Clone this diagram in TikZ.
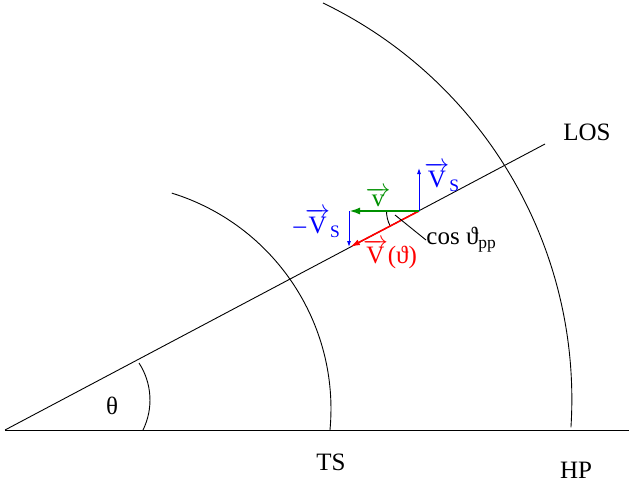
\documentclass[tikz,border=0pt]{standalone}
\usepackage{fontspec}
\setmainfont{Liberation Serif}
\usepackage{xcolor}
\definecolor{VsBlue}{HTML}{0000FF}
\definecolor{VGreen}{HTML}{009000}
\definecolor{VRed}{HTML}{FF0000}
\usetikzlibrary{arrows.meta}
\newcommand{\vecarr}[1]{$\overrightarrow{\hbox{#1}}$}

\begin{document}
\begin{tikzpicture}[x=1pt, y=-1pt, >=Latex, line width=.9pt,
  every node/.style={font=\fontsize{25}{29}\selectfont, inner sep=0pt},
  vecblue/.style={VsBlue, line width=.9pt, -{Latex[length=6pt,width=4pt]}},
  vecgreen/.style={VGreen, line width=2pt, -{Latex[length=11pt,width=7pt]}},
  vecred/.style={VRed, line width=1.6pt, -{Latex[length=10pt,width=6pt]}}]
  \useasboundingbox (0,0) rectangle (629,483);
  \coordinate (O) at (5,430); \coordinate (axisend) at (629,430);
  \coordinate (losend) at (545,144);
  \coordinate (P) at (419,211); \coordinate (vsend) at (419,168);
  \coordinate (vend) at (349,211); \coordinate (vsdownend) at (349,247);
  \coordinate (vthend) at (350,247); \coordinate (lead) at (395,215);
  \draw (O) -- (axisend);
  \draw (O) -- (losend);
  % arcs
  \draw (171.8,193.1) arc[start angle=-72.8, end angle=5.3, radius=226];
  \draw (323,3) arc[start angle=-64.25, end angle=3.65, radius=440];
  \draw (139,363) arc[start angle=-33, end angle=26.2, radius=68];
  \draw (P) ++(-32.5,0) arc[start angle=180, end angle=153, radius=32.5];
  % vectors
  \draw[vecred] (P) -- (vthend);
  \draw[vecgreen] (P) -- (vend);
  \draw[vecblue] (P) -- (vsend);
  \draw[vecblue] (vend) -- (vsdownend);
  \node (los) at (587,132) {LOS};
  \node (ts) at (331,462) {TS};
  \node (hp) at (576,470) {HP};
  \node (theta) at (112,406) {θ};
  \node[VsBlue] (vsup) at (442,177) {\vecarr{V}\textsubscript{S}};
  \node[VGreen] (vlbl) at (378,197) {\vecarr{v}};
  \node[VsBlue] (vsdown) at (317,223) {–\kern-1pt\vecarr{V}\textsubscript{S}};
  \node[VRed] (vth) at (390,254) {\vecarr{V}(ϑ)};
  \node[anchor=west] (cosl) at (426,240) {cos ϑ\textsubscript{pp}};
  \draw (lead) -- (cosl.west);
\end{tikzpicture}
\end{document}
